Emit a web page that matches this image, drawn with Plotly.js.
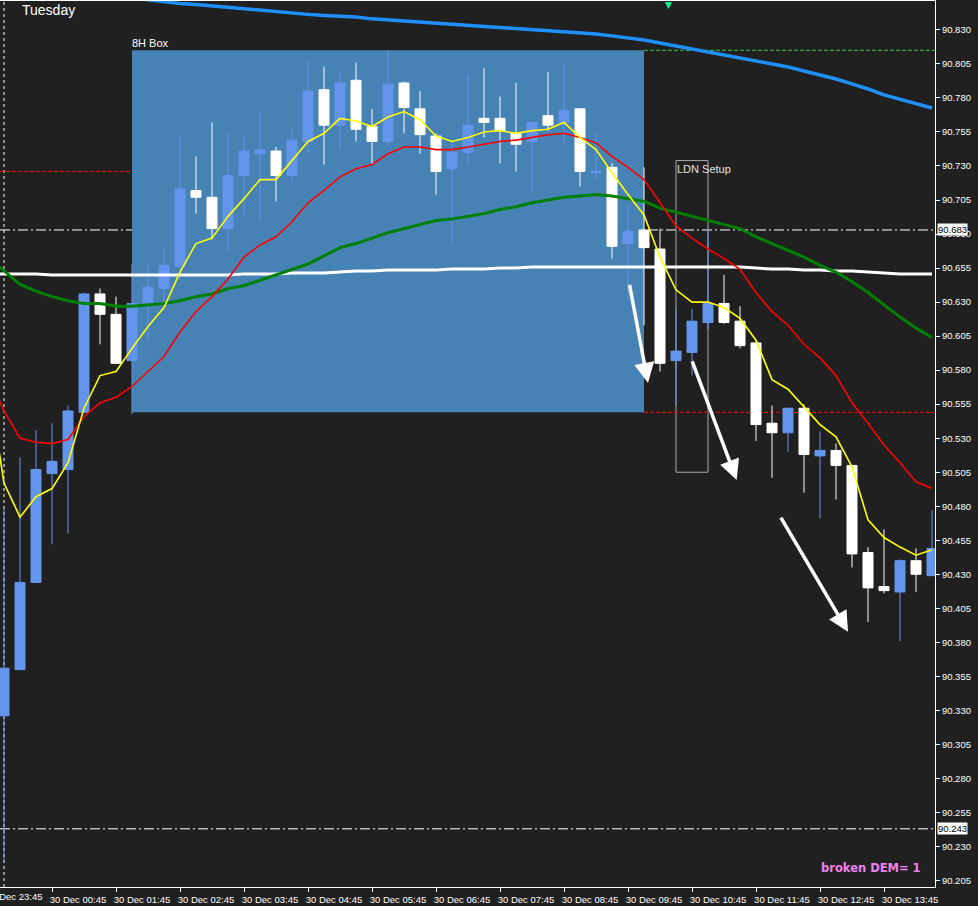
<!DOCTYPE html>
<html><head><meta charset="utf-8">
<script src="https://cdn.plot.ly/plotly-3.0.1.min.js"></script>
<style>html,body{margin:0;padding:0;background:#202020;}#chart{width:978px;height:906px;}</style>
</head><body><div id="chart"></div>
<script>
// ---- data ----
const times = ["29 Dec 23:45",
 "30 Dec 00:00","30 Dec 00:15","30 Dec 00:30","30 Dec 00:45","30 Dec 01:00","30 Dec 01:15","30 Dec 01:30","30 Dec 01:45",
 "30 Dec 02:00","30 Dec 02:15","30 Dec 02:30","30 Dec 02:45","30 Dec 03:00","30 Dec 03:15","30 Dec 03:30","30 Dec 03:45",
 "30 Dec 04:00","30 Dec 04:15","30 Dec 04:30","30 Dec 04:45","30 Dec 05:00","30 Dec 05:15","30 Dec 05:30","30 Dec 05:45",
 "30 Dec 06:00","30 Dec 06:15","30 Dec 06:30","30 Dec 06:45","30 Dec 07:00","30 Dec 07:15","30 Dec 07:30","30 Dec 07:45",
 "30 Dec 08:00","30 Dec 08:15","30 Dec 08:30","30 Dec 08:45","30 Dec 09:00","30 Dec 09:15","30 Dec 09:30","30 Dec 09:45",
 "30 Dec 10:00","30 Dec 10:15","30 Dec 10:30","30 Dec 10:45","30 Dec 11:00","30 Dec 11:15","30 Dec 11:30","30 Dec 11:45",
 "30 Dec 12:00","30 Dec 12:15","30 Dec 12:30","30 Dec 12:45","30 Dec 13:00","30 Dec 13:15","30 Dec 13:30","30 Dec 13:45",
 "30 Dec 14:00","30 Dec 14:15","30 Dec 14:30"];
const candleTimes = times.slice(1);

const openP = [90.326,90.360,90.424,90.504,90.507,90.549,90.636,90.621,90.587,90.629,90.640,90.656,90.712,90.707,90.684,90.723,
 90.739,90.741,90.723,90.748,90.786,90.760,90.793,90.759,90.748,90.791,90.772,90.752,90.728,90.740,90.765,90.765,
 90.754,90.748,90.767,90.762,90.772,90.725,90.729,90.673,90.683,90.669,90.587,90.593,90.615,90.629,90.616,90.600,
 90.541,90.534,90.552,90.517,90.521,90.510,90.446,90.421,90.417,90.440,90.429];
const highP = [90.479,90.516,90.536,90.541,90.554,90.637,90.640,90.634,90.658,90.658,90.670,90.751,90.737,90.762,90.754,90.752,
 90.770,90.744,90.757,90.807,90.803,90.800,90.806,90.772,90.815,90.792,90.785,90.754,90.749,90.797,90.802,90.781,
 90.791,90.762,90.799,90.806,90.772,90.754,90.732,90.701,90.729,90.684,90.625,90.625,90.684,90.650,90.627,90.602,
 90.554,90.552,90.555,90.535,90.526,90.510,90.450,90.463,90.441,90.449,90.477];
const lowP = [90.218,90.360,90.424,90.452,90.460,90.549,90.599,90.585,90.548,90.602,90.624,90.646,90.695,90.676,90.668,90.693,
 90.690,90.704,90.718,90.740,90.731,90.742,90.748,90.731,90.745,90.754,90.739,90.709,90.674,90.731,90.751,90.732,
 90.726,90.712,90.756,90.745,90.715,90.720,90.662,90.632,90.613,90.579,90.554,90.576,90.610,90.614,90.596,90.528,
 90.501,90.520,90.490,90.471,90.485,90.435,90.395,90.416,90.381,90.417,90.429];
const closeP = [90.361,90.424,90.507,90.513,90.550,90.636,90.621,90.585,90.629,90.641,90.657,90.713,90.707,90.684,90.723,90.741,
 90.742,90.723,90.749,90.785,90.760,90.791,90.757,90.748,90.790,90.773,90.753,90.726,90.740,90.760,90.762,90.756,
 90.746,90.762,90.760,90.771,90.726,90.726,90.671,90.682,90.670,90.585,90.594,90.616,90.629,90.615,90.598,90.540,
 90.534,90.552,90.518,90.521,90.510,90.445,90.420,90.418,90.440,90.430,90.449];

// moving averages, one value per entry of `times`
const yellowMA = [90.573,90.497,90.472,90.487,90.493,90.512,90.552,90.576,90.579,90.596,90.612,90.626,90.652,90.673,90.677,90.693,
 90.706,90.720,90.720,90.734,90.748,90.754,90.765,90.763,90.759,90.766,90.770,90.764,90.752,90.748,90.751,90.755,
 90.756,90.754,90.756,90.757,90.762,90.751,90.742,90.725,90.709,90.694,90.663,90.639,90.630,90.630,90.626,90.618,
 90.602,90.573,90.566,90.553,90.540,90.531,90.509,90.470,90.457,90.450,90.444,90.448];
const redMA = [90.576,90.550,90.530,90.527,90.526,90.529,90.546,90.556,90.560,90.568,90.579,90.590,90.608,90.623,90.634,90.647,
 90.663,90.672,90.678,90.689,90.703,90.712,90.722,90.728,90.731,90.739,90.744,90.744,90.742,90.742,90.744,90.746,
 90.748,90.749,90.751,90.753,90.754,90.751,90.747,90.737,90.729,90.720,90.703,90.686,90.677,90.669,90.662,90.654,
 90.637,90.623,90.613,90.599,90.589,90.576,90.556,90.541,90.525,90.512,90.498,90.493];
const greenMA = [90.663,90.653,90.643,90.638,90.634,90.631,90.629,90.629,90.627,90.627,90.628,90.629,90.631,90.634,90.636,90.640,
 90.642,90.646,90.650,90.654,90.658,90.664,90.670,90.673,90.677,90.681,90.684,90.687,90.690,90.691,90.693,90.695,
 90.698,90.700,90.703,90.705,90.707,90.708,90.709,90.708,90.706,90.704,90.699,90.696,90.693,90.690,90.687,90.684,
 90.678,90.673,90.668,90.663,90.657,90.652,90.645,90.637,90.628,90.619,90.611,90.604];
const whiteMA = [90.6506,90.6506,90.6506,90.6506,90.6499,90.6499,90.6499,90.6499,90.6499,90.6499,90.6499,90.6499,90.6499,90.6499,
 90.6499,90.6499,90.6506,90.6506,90.6506,90.6514,90.6514,90.6514,90.6521,90.6528,90.6528,90.6536,90.6536,90.6536,90.6536,
 90.6543,90.6543,90.6543,90.6550,90.6550,90.6558,90.6558,90.6558,90.6558,90.6558,90.6558,90.6558,90.6558,90.6558,90.6558,
 90.6558,90.6558,90.6558,90.6558,90.6550,90.6543,90.6543,90.6536,90.6536,90.6528,90.6528,90.6521,90.6514,90.6506,90.6506,90.6506];
const blueMA = [null,null,null,null,null,null,null,null,null,
 90.8535,90.8520,90.8505,90.8494,90.8487,90.8476,90.8469,90.8454,90.8443,90.8432,90.8421,90.8414,90.8406,90.8403,90.8395,
 90.8381,90.8373,90.8366,90.8358,90.8351,90.8344,90.8336,90.8329,90.8322,90.8314,90.8303,90.8292,90.8285,90.8281,90.8270,
 90.8256,90.8241,90.8226,90.8204,90.8182,90.8160,90.8138,90.8116,90.8094,90.8072,90.8050,90.8028,90.7998,90.7969,90.7939,
 90.7903,90.7866,90.7822,90.7792,90.7756,90.7726];

const xTickLabels = ["30 Dec 00:45","30 Dec 01:45","30 Dec 02:45","30 Dec 03:45","30 Dec 04:45","30 Dec 05:45","30 Dec 06:45",
 "30 Dec 07:45","30 Dec 08:45","30 Dec 09:45","30 Dec 10:45","30 Dec 11:45","30 Dec 12:45","30 Dec 13:45"];
const firstLabel = "29 Dec 23:45";

const boxStart = "30 Dec 02:00", boxEnd = "30 Dec 10:00";
const boxHigh = 90.815, boxLow = 90.549;
const ldnStart = "30 Dec 10:30", ldnEnd = "30 Dec 11:00";
const ldnTop = 90.734, ldnBottom = 90.505;
const daySeparator = "30 Dec 00:00";
const levelWhite = [90.683, 90.243];
const levelLeftRed = 90.726;
const signalTime = 41.5; // candle index of the green marker
// arrows: [fromCandleIndex, fromPrice, toCandleIndex, toPrice]
const arrows = [[39.08,90.6438,40.25,90.5706],[42.98,90.5875,45.79,90.4993],[48.5,90.4728,52.75,90.3878]];

// ---- drawing ----
const pos = t => times.indexOf(t);
const yRange = [90.20024, 90.85123];
const xRange = [0.75, 59.1875];
const tickFont = {family:'Liberation Sans, Arial, sans-serif', size:9.5, color:'#ffffff'};

const traces = [
 {type:'candlestick', x:candleTimes, open:openP, high:highP, low:lowP, close:closeP,
  increasing:{line:{color:'#6495ED', width:1}, fillcolor:'#6495ED'},
  decreasing:{line:{color:'#FFFFFF', width:1}, fillcolor:'#FFFFFF'},
  whiskerwidth:0, hoverinfo:'skip', showlegend:false},
 {type:'scatter', mode:'lines', x:times, y:whiteMA, line:{color:'#FFFFFF', width:3}, hoverinfo:'skip'},
 {type:'scatter', mode:'lines', x:times, y:blueMA, line:{color:'#1E90FF', width:3.5}, hoverinfo:'skip'},
 {type:'scatter', mode:'lines', x:times, y:greenMA, line:{color:'#008000', width:3}, hoverinfo:'skip'},
 {type:'scatter', mode:'lines', x:times, y:redMA, line:{color:'#FF0000', width:1.6}, hoverinfo:'skip'},
 {type:'scatter', mode:'lines', x:times, y:yellowMA, line:{color:'#FFFF00', width:1.6}, hoverinfo:'skip'}
];

const shapes = [
 {type:'rect', xref:'x', yref:'y', x0:pos(boxStart), x1:pos(boxEnd), y0:boxLow, y1:boxHigh,
  fillcolor:'#4682B4', line:{width:0}, layer:'below'},
 {type:'rect', xref:'x', yref:'y', x0:pos(ldnStart), x1:pos(ldnEnd), y0:ldnBottom, y1:ldnTop,
  fillcolor:'rgba(0,0,0,0)', line:{color:'#A8A8A8', width:1}, layer:'below'},
 {type:'line', xref:'x', yref:'y', x0:0, x1:pos(boxStart), y0:levelLeftRed, y1:levelLeftRed,
  line:{color:'#FF0000', width:1, dash:'4px,2px'}, layer:'below'},
 {type:'line', xref:'x', yref:'y', x0:pos(boxEnd), x1:times.length, y0:boxHigh, y1:boxHigh,
  line:{color:'#32CD32', width:1, dash:'4px,2px'}, layer:'below'},
 {type:'line', xref:'x', yref:'y', x0:pos(boxEnd), x1:times.length, y0:boxLow, y1:boxLow,
  line:{color:'#FF0000', width:1, dash:'4px,2px'}, layer:'below'},
 {type:'line', xref:'x', yref:'paper', x0:pos(daySeparator), x1:pos(daySeparator), y0:0, y1:1,
  line:{color:'#FFFFFF', width:1, dash:'3px,3px'}, layer:'below'}
];
levelWhite.forEach(v => shapes.push({type:'line', xref:'paper', yref:'y', x0:0, x1:1, y0:v, y1:v,
  line:{color:'#FFFFFF', width:1, dash:'10px,3px,2px,3px'}, layer:'below'}));

const annotations = [
 {xref:'paper', yref:'paper', x:20/935, y:0.9898, xanchor:'left', yanchor:'middle', showarrow:false,
  text:'Tuesday', font:{family:'Liberation Sans, Arial, sans-serif', size:14, color:'#FFFFFF'}},
 {xref:'x', yref:'y', x:pos(boxStart), y:boxHigh, xanchor:'left', yanchor:'bottom', showarrow:false, xshift:-2, yshift:-1,
  text:'8H Box', font:{family:'Liberation Sans, Arial, sans-serif', size:11, color:'#FFFFFF'}},
 {xref:'x', yref:'y', x:pos(ldnStart), y:ldnTop, xanchor:'left', yanchor:'top', showarrow:false, xshift:-1,
  text:'LDN Setup', font:{family:'Liberation Sans, Arial, sans-serif', size:11, color:'#E0E0E0'}},
 {xref:'paper', yref:'paper', x:923/935, y:0.0214, xanchor:'right', yanchor:'middle', showarrow:false,
  text:'<b>broken DEM= 1</b>', font:{family:'DejaVu Sans, sans-serif', size:11.5, color:'#EE82EE'}},
 {xref:'paper', yref:'paper', x:-12/935, y:-0.0102, xanchor:'center', yanchor:'middle', xshift:26, showarrow:false,
  text:firstLabel, font:tickFont},
 {xref:'x', yref:'paper', x:signalTime + 1, y:1, xanchor:'center', yanchor:'top', yshift:3, showarrow:false,
  text:'▼', font:{family:'DejaVu Sans, sans-serif', size:9, color:'#00FA9A'}}
];
levelWhite.forEach(v => annotations.push({xref:'paper', yref:'y', x:1, y:v, xanchor:'left', yanchor:'middle', xshift:2,
  showarrow:false, text:v.toFixed(3), bgcolor:'#FFFFFF', borderpad:0,
  font:{family:'Liberation Sans, Arial, sans-serif', size:9.5, color:'#000000'}}));
arrows.forEach(a => annotations.push({xref:'x', yref:'y', axref:'x', ayref:'y',
  x:a[2] + 1, y:a[3], ax:a[0] + 1, ay:a[1], text:'', showarrow:true,
  arrowhead:2, arrowwidth:3.5, arrowsize:1.15, arrowcolor:'#FFFFFF', standoff:0, startstandoff:0}));

const layout = {
 width:978, height:906,
 margin:{l:0, r:43, t:1, b:19, pad:0},
 paper_bgcolor:'#202020', plot_bgcolor:'#202020',
 showlegend:false, hovermode:false, dragmode:false,
 boxgap:0.375, boxgroupgap:0,
 xaxis:{type:'category', categoryorder:'array', categoryarray:times, range:xRange,
  rangeslider:{visible:false}, showgrid:false, zeroline:false,
  showline:true, linecolor:'#FFFFFF', linewidth:1, mirror:true,
  ticks:'outside', ticklen:4, tickcolor:'#FFFFFF', tickwidth:1,
  tickmode:'array', tickvals:xTickLabels, ticktext:xTickLabels, tickfont:tickFont,
  ticklabelshift:26, tickangle:0},
 yaxis:{side:'right', range:yRange, showgrid:false, zeroline:false,
  showline:true, linecolor:'#FFFFFF', linewidth:1,
  ticks:'outside', ticklen:4, tickcolor:'#FFFFFF', tickwidth:1,
  tick0:90.205, dtick:0.025, tickformat:'.3f', tickfont:tickFont},
 shapes:shapes, annotations:annotations
};
Plotly.newPlot('chart', traces, layout, {staticPlot:true, displayModeBar:false});
</script></body></html>
